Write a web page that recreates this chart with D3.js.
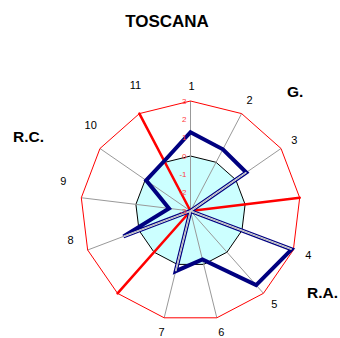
<!DOCTYPE html>
<html><head><meta charset="utf-8">
<script src="https://cdn.jsdelivr.net/npm/d3@7"></script>
<style>html,body{margin:0;padding:0;background:#fff;}svg{display:block;font-family:"Liberation Sans",Arial,sans-serif;}</style>
</head><body>
<script>
const categories = ["1","2","3","","4","5","6","7","","8","9","10","11"];
const seriesValues = [1.3, 0.8, 0.7, -3, 2.9, 2.4, -0.28, 0.38, -3, 0.91, -1.82, -0.06, 0.08];
const separatorValues = [-3, -3, -3, 3, -3, -3, -3, -3, 3, -3, -3, -3, 3];
const zeroValues = [0,0,0,0,0,0,0,0,0,0,0,0,0];
const tickValues = [-3,-2,-1,0,1,2,3];
const groupLabels = ["G.", "R.A.", "R.C."];
const title = "TOSCANA";

const W = 340, H = 338, cx = 190.5, cy = 211, R = 110;
const svg = d3.select("body").append("svg").attr("width", W).attr("height", H);
const g = svg.append("g").attr("transform", `translate(${cx},${cy})`);

const n = categories.length;
const angle = d3.scaleLinear().domain([0, n]).range([0, 2*Math.PI]);
const r = d3.scaleLinear().domain([-3, 3]).range([0, R]);
const radial = d3.lineRadial().angle((d,i)=>angle(i)).radius(d=>r(d)).curve(d3.curveLinearClosed);
const pt = (i, v) => [Math.sin(angle(i))*r(v), -Math.cos(angle(i))*r(v)];

// zero area
g.append("path").attr("d", radial(zeroValues)).attr("fill", "#ccffff").attr("stroke", "#000").attr("stroke-width", 1);
// spokes
g.selectAll("line.spoke").data(categories).enter().append("line")
  .attr("x1",0).attr("y1",0)
  .attr("x2",(d,i)=>pt(i,3)[0]).attr("y2",(d,i)=>pt(i,3)[1])
  .attr("stroke","#999").attr("stroke-width",1);
// outer polygon
g.append("path").attr("d", radial(categories.map(()=>3))).attr("fill","none").attr("stroke","#ff0000").attr("stroke-width",1);
// separators
g.append("path").attr("d", radial(separatorValues)).attr("fill","none").attr("stroke","#ff0000").attr("stroke-width",2.5).attr("stroke-linejoin","round");
// main series
g.append("path").attr("d", radial(seriesValues)).attr("fill","none").attr("stroke","#000080").attr("stroke-width",4).attr("stroke-linejoin","miter");
// segments of the series lying along spokes: spoke shows through
seriesValues.forEach((v,i)=>{
  const prev = seriesValues[(i-1+n)%n], next = seriesValues[(i+1)%n];
  if (v > -3 && (prev === -3 || next === -3)) {
    const p = pt(i, v);
    g.append("line").attr("x1",0).attr("y1",0).attr("x2",p[0]).attr("y2",p[1]).attr("stroke","#fff").attr("stroke-width",1.6);
    g.append("line").attr("x1",0).attr("y1",0).attr("x2",p[0]).attr("y2",p[1]).attr("stroke","#999").attr("stroke-width",0.8);
  }
});
// tick labels
g.selectAll("text.tick").data(tickValues).enter().append("text")
  .attr("x",-4).attr("y",d=>-r(d)).attr("dy","0.35em")
  .attr("text-anchor","end").attr("font-size",8).attr("fill","#ff4040").text(d=>d);
// category labels
g.selectAll("text.cat").data(categories).enter().append("text")
  .attr("x",(d,i)=>{const s=Math.sin(angle(i)); return s*125 + (s< -0.3 ? (s<-0.9?-3:3) : 1);})
  .attr("y",(d,i)=>{const s=Math.sin(angle(i)); return -Math.cos(angle(i))*125 + (s< -0.3 ? -15 : 0);})
  .attr("dy","0.35em").attr("text-anchor","middle").attr("font-size",11).attr("fill","#000").text(d=>d);
// title and group labels
svg.append("text").attr("x",167).attr("y",27).attr("text-anchor","middle").attr("font-size",17).attr("font-weight","bold").text(title);
const gpos = [[287,97],[307,298],[13,142]];
svg.selectAll("text.grp").data(groupLabels).enter().append("text")
  .attr("x",(d,i)=>gpos[i][0]).attr("y",(d,i)=>gpos[i][1])
  .attr("font-size",15.5).attr("font-weight","bold").text(d=>d);
</script>
</body></html>
